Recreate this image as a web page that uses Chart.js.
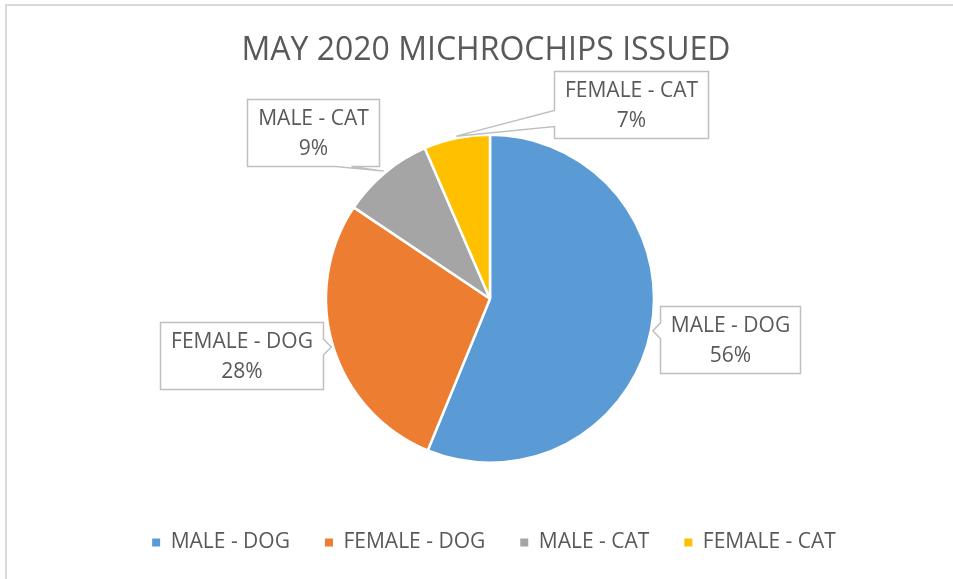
<!DOCTYPE html>
<html>
<head>
<meta charset="utf-8">
<title>May 2020 Microchips Issued</title>
<script src="https://cdn.jsdelivr.net/npm/chart.js@4/dist/chart.umd.min.js"></script>
<style>
    html, body { margin: 0; padding: 0; background: #fff; overflow: hidden; }
    .frame { position: absolute; left: 5px; top: 4px; width: 2000px; height: 2000px; border: 2px solid #d9d9d9; }
    #myChart { position: absolute; left: 0; top: 0; }
</style>
</head>
<body>
<div class="frame"></div>
<canvas id="myChart" width="953" height="579"></canvas>
<script>
// chart data
const categories = ['MALE - DOG', 'FEMALE - DOG', 'MALE - CAT', 'FEMALE - CAT'];
const shares = [56.2, 28.2, 9.1, 6.5];
const sliceColors = ['#5B9BD5', '#ED7D31', '#A5A5A5', '#FFC000'];

const textColor = '#595959';
const labelFont = '21px "Open Sans"';

// callout box centres, relative to the pie centre
const calloutOffsets = [[240, 41], [-249, 57], [-177, -166], [141, -194]];

// draws the box + pointer around a data label
function calloutPath(ctx, x, y, w, h, tx, ty) {
    const half = 8;
    const ox = tx < x ? x - tx : (tx > x + w ? tx - x - w : 0);
    const oy = ty < y ? y - ty : (ty > y + h ? ty - y - h : 0);
    let side;
    if (ox >= oy) side = tx < x ? 'left' : 'right';
    else side = ty < y ? 'top' : 'bottom';
    const cx = Math.min(Math.max(tx, x + 36), x + w - 36);
    const cy = Math.min(Math.max(ty, y + 20), y + h - 20);

    ctx.beginPath();
    ctx.moveTo(x, y);
    if (side === 'top') { ctx.lineTo(cx - half, y); ctx.lineTo(tx, ty); ctx.lineTo(cx + half, y); }
    ctx.lineTo(x + w, y);
    if (side === 'right') { ctx.lineTo(x + w, cy - half); ctx.lineTo(tx, ty); ctx.lineTo(x + w, cy + half); }
    ctx.lineTo(x + w, y + h);
    if (side === 'bottom') { ctx.lineTo(cx + half, y + h); ctx.lineTo(tx, ty); ctx.lineTo(cx - half, y + h); }
    ctx.lineTo(x, y + h);
    if (side === 'left') { ctx.lineTo(x, cy + half); ctx.lineTo(tx, ty); ctx.lineTo(x, cy - half); }
    ctx.closePath();
}

const calloutLabels = {
    id: 'calloutLabels',
    afterLayout(chart) {
        // nudge title and legend to where excel put them
        chart.titleBlock.left -= 4;
        chart.titleBlock.right -= 4;
        chart.legend.left += 4;
        chart.legend.right += 4;
    },
    afterDatasetsDraw(chart) {
        const ctx = chart.ctx;
        const meta = chart.getDatasetMeta(0);
        const total = shares.reduce((a, b) => a + b, 0);
        ctx.save();
        ctx.font = labelFont;
        meta.data.forEach((arc, i) => {
            const mid = (arc.startAngle + arc.endAngle) / 2;
            const r = arc.outerRadius + 2;
            const tx = arc.x + Math.cos(mid) * r;
            const ty = arc.y + Math.sin(mid) * r;

            const line1 = categories[i];
            const line2 = Math.round(shares[i] / total * 100) + '%';
            const w = Math.round(ctx.measureText(line1).width + 21);
            const h = 67;
            const bx = Math.round(arc.x + calloutOffsets[i][0] - w / 2) + 0.5;
            const by = Math.round(arc.y + calloutOffsets[i][1] - h / 2) + 0.5;

            calloutPath(ctx, bx, by, w, h, tx, ty);
            ctx.fillStyle = '#ffffff';
            ctx.fill();
            ctx.strokeStyle = '#bfbfbf';
            ctx.lineWidth = 1.5;
            ctx.stroke();

            ctx.fillStyle = textColor;
            ctx.textAlign = 'center';
            ctx.textBaseline = 'middle';
            ctx.fillText(line1, bx + w / 2, by + h / 2 - 14);
            ctx.fillText(line2, bx + w / 2, by + h / 2 + 16);
        });
        ctx.restore();
    }
};

document.addEventListener('DOMContentLoaded', function() {
    let ctx = document.getElementById('myChart').getContext('2d');
    const defaultLabels = Chart.overrides.pie.plugins.legend.labels.generateLabels;

    new Chart(ctx, {
        type: 'pie',
        data: {
            labels: categories,
            datasets: [{
                data: shares,
                backgroundColor: sliceColors,
                borderColor: '#ffffff',
                borderWidth: 2.5
            }]
        },
        options: {
            responsive: false,
            animation: false,
            radius: 164,
            layout: {
                padding: { left: 27, bottom: 16 }
            },
            plugins: {
                title: {
                    display: true,
                    text: 'MAY 2020 MICHROCHIPS ISSUED',
                    color: textColor,
                    font: { family: 'Open Sans', size: 32, weight: 'normal' },
                    padding: { top: 32, bottom: 30 }
                },
                legend: {
                    position: 'bottom',
                    labels: {
                        color: textColor,
                        font: { family: 'Open Sans', size: 21 },
                        boxWidth: 8,
                        boxHeight: 8,
                        padding: 35,
                        generateLabels: function(chart) {
                            return defaultLabels(chart).map(item => {
                                item.lineWidth = 0;
                                return item;
                            });
                        }
                    }
                },
                tooltip: { enabled: false }
            }
        },
        plugins: [calloutLabels]
    });
});
</script>
</body>
</html>
